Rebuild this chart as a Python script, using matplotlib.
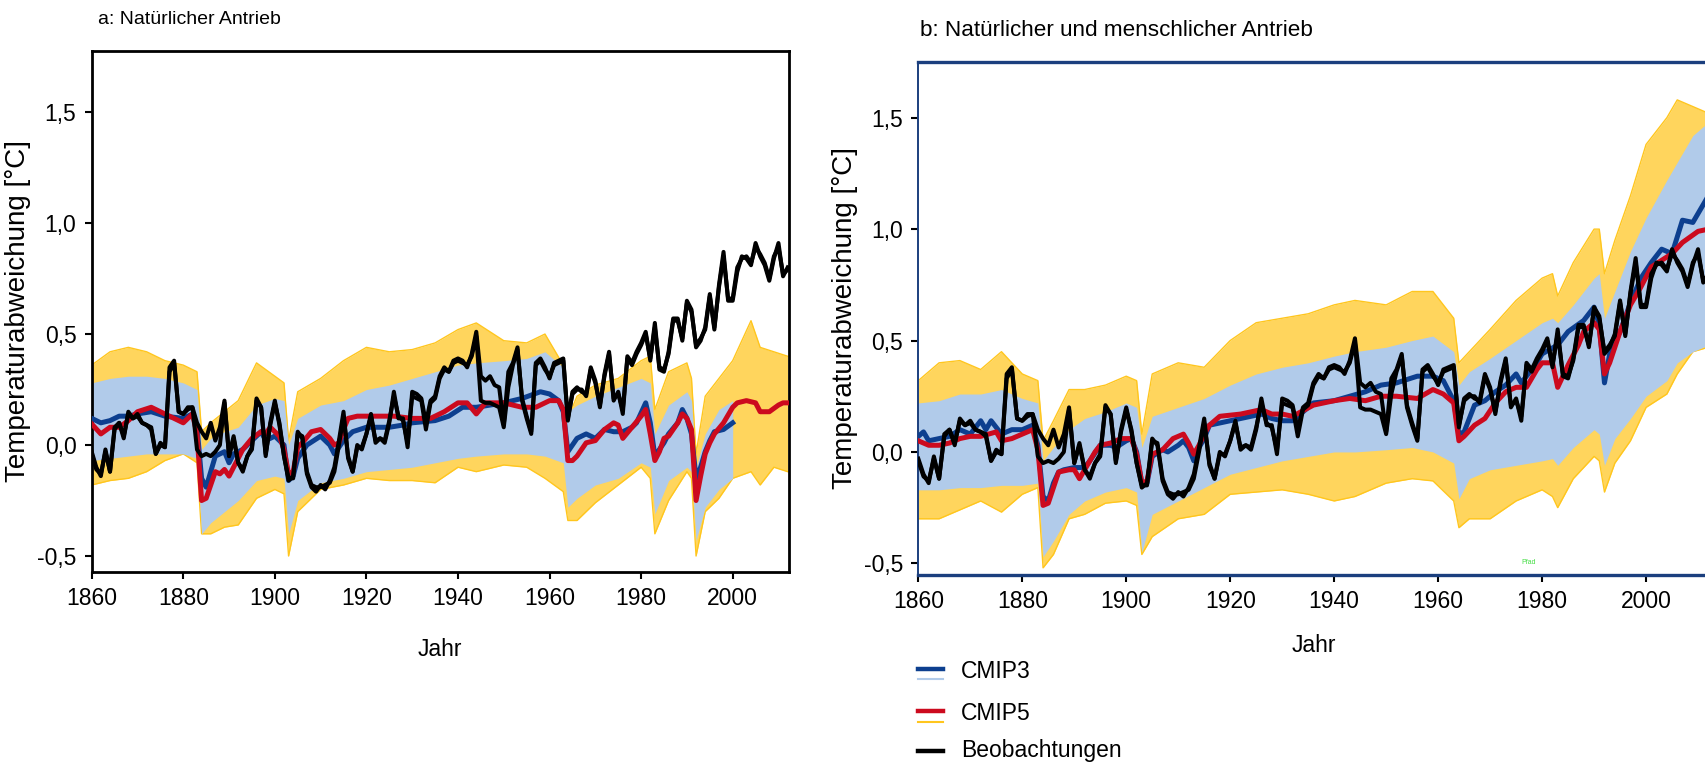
import numpy as np
import matplotlib
matplotlib.use("Agg")
import matplotlib.pyplot as plt
from matplotlib import font_manager
from matplotlib.lines import Line2D

# observations (two data sets), annual 1860-2012
years = np.arange(1860, 2013)
obs_1 = [-0.03, -0.10, -0.14, -0.02, -0.12, 0.08, 0.10, 0.03, 0.15, 0.12,
         0.14, 0.10, 0.09, 0.08, -0.04, 0.00, -0.01, 0.35, 0.38, 0.15,
         0.14, 0.17, 0.17, 0.10, 0.06, 0.03, 0.10, 0.02, 0.08, 0.20,
         -0.05, 0.04, -0.08, -0.12, -0.05, -0.01, 0.21, 0.17, -0.05, 0.10,
         0.20, 0.09, -0.05, -0.16, -0.14, 0.06, 0.03, -0.13, -0.19, -0.21,
         -0.18, -0.20, -0.16, -0.10, 0.02, 0.15, -0.06, -0.12, 0.00, -0.02,
         0.05, 0.14, 0.01, 0.03, 0.01, 0.10, 0.24, 0.12, 0.12, -0.01,
         0.24, 0.23, 0.21, 0.10, 0.20, 0.22, 0.31, 0.35, 0.33, 0.38,
         0.39, 0.38, 0.35, 0.41, 0.51, 0.31, 0.29, 0.31, 0.27, 0.26,
         0.09, 0.33, 0.37, 0.44, 0.20, 0.12, 0.05, 0.37, 0.39, 0.35,
         0.30, 0.37, 0.38, 0.39, 0.11, 0.24, 0.26, 0.24, 0.23, 0.35,
         0.29, 0.17, 0.32, 0.42, 0.20, 0.24, 0.14, 0.40, 0.37, 0.42,
         0.46, 0.51, 0.38, 0.55, 0.34, 0.33, 0.42, 0.57, 0.57, 0.47,
         0.65, 0.61, 0.44, 0.47, 0.53, 0.68, 0.52, 0.72, 0.87, 0.65,
         0.65, 0.78, 0.85, 0.84, 0.81, 0.91, 0.85, 0.81, 0.74, 0.84,
         0.91, 0.76, 0.80]
obs_2 = [-0.04, -0.11, -0.13, -0.03, -0.12, 0.07, 0.10, 0.04, 0.14, 0.12,
         0.13, 0.10, 0.09, 0.07, -0.04, 0.01, -0.01, 0.33, 0.37, 0.15,
         0.14, 0.16, 0.17, -0.02, -0.05, -0.04, -0.05, -0.03, 0.00, 0.19,
         -0.05, 0.03, -0.08, -0.11, -0.05, -0.02, 0.20, 0.17, -0.04, 0.09,
         0.19, 0.10, -0.05, -0.15, -0.15, 0.05, 0.04, -0.12, -0.18, -0.19,
         -0.19, -0.18, -0.17, -0.12, 0.00, 0.13, -0.05, -0.12, -0.01, -0.01,
         0.05, 0.13, 0.02, 0.03, 0.02, 0.11, 0.22, 0.13, 0.11, 0.01,
         0.22, 0.21, 0.20, 0.07, 0.19, 0.21, 0.30, 0.34, 0.33, 0.37,
         0.38, 0.37, 0.36, 0.40, 0.49, 0.20, 0.19, 0.19, 0.18, 0.17,
         0.08, 0.26, 0.36, 0.43, 0.21, 0.13, 0.06, 0.36, 0.38, 0.34,
         0.31, 0.36, 0.37, 0.38, 0.12, 0.23, 0.25, 0.25, 0.22, 0.34,
         0.28, 0.18, 0.31, 0.41, 0.21, 0.23, 0.16, 0.39, 0.36, 0.41,
         0.45, 0.50, 0.39, 0.53, 0.35, 0.34, 0.41, 0.56, 0.56, 0.48,
         0.64, 0.60, 0.45, 0.48, 0.52, 0.67, 0.53, 0.71, 0.85, 0.66,
         0.66, 0.80, 0.84, 0.85, 0.82, 0.89, 0.86, 0.82, 0.75, 0.85,
         0.89, 0.77, 0.79]

# multi-model means (year, value)
a_cmip5_mean = [(1860, 0.095), (1862, 0.05), (1864, 0.08), (1866, 0.08), (1868, 0.11),
                (1870, 0.15), (1873, 0.17), (1876, 0.14), (1878, 0.12), (1880, 0.10),
                (1882, 0.14), (1883, 0.05), (1884, -0.25), (1885, -0.24), (1886, -0.18),
                (1887, -0.12), (1888, -0.13), (1889, -0.11), (1890, -0.14), (1891, -0.10),
                (1892, -0.06), (1893, -0.02), (1895, 0.03), (1897, 0.06), (1898, 0.05),
                (1899, 0.08), (1901, 0.04), (1902, -0.02), (1903, -0.13), (1904, -0.12),
                (1905, -0.01), (1906, 0.01), (1908, 0.06), (1910, 0.07), (1912, 0.03),
                (1913, 0.00), (1914, 0.01), (1915, 0.07), (1916, 0.12), (1918, 0.13),
                (1922, 0.13), (1926, 0.13), (1930, 0.12), (1934, 0.12), (1937, 0.15),
                (1940, 0.19), (1942, 0.19), (1944, 0.14), (1946, 0.19), (1950, 0.19),
                (1954, 0.17), (1957, 0.17), (1960, 0.20), (1962, 0.20), (1963, 0.16),
                (1964, -0.07), (1965, -0.07), (1966, -0.05), (1968, 0.01), (1970, 0.02),
                (1972, 0.07), (1974, 0.10), (1975, 0.09), (1976, 0.03), (1978, 0.08),
                (1980, 0.13), (1981, 0.16), (1982, 0.05), (1983, -0.07), (1984, -0.03),
                (1985, 0.03), (1986, 0.04), (1988, 0.10), (1989, 0.14), (1990, 0.12),
                (1991, 0.07), (1992, -0.25), (1993, -0.14), (1994, -0.04), (1995, 0.01),
                (1996, 0.05), (1998, 0.10), (2000, 0.17), (2001, 0.19), (2003, 0.20),
                (2005, 0.19), (2006, 0.15), (2008, 0.15), (2010, 0.18), (2011, 0.19),
                (2012, 0.19)]
a_cmip3_mean = [(1860, 0.12), (1862, 0.10), (1864, 0.11), (1866, 0.13), (1868, 0.13),
                (1870, 0.14), (1873, 0.15), (1876, 0.13), (1880, 0.12), (1882, 0.14),
                (1883, 0.08), (1884, -0.15), (1885, -0.19), (1886, -0.12), (1887, -0.05),
                (1888, -0.04), (1889, -0.03), (1890, -0.08), (1891, -0.04), (1893, -0.02),
                (1895, 0.02), (1897, 0.06), (1898, 0.02), (1900, 0.04), (1902, 0.00),
                (1903, -0.16), (1904, -0.14), (1905, -0.06), (1907, 0.00), (1910, 0.04),
                (1912, 0.00), (1913, -0.04), (1915, 0.02), (1917, 0.06), (1920, 0.08),
                (1925, 0.08), (1928, 0.09), (1930, 0.10), (1935, 0.11), (1938, 0.13),
                (1941, 0.17), (1944, 0.17), (1947, 0.18), (1950, 0.19), (1954, 0.21),
                (1958, 0.24), (1960, 0.23), (1962, 0.20), (1963, 0.15), (1964, -0.03),
                (1966, 0.03), (1968, 0.05), (1970, 0.03), (1972, 0.07), (1974, 0.06),
                (1976, 0.06), (1978, 0.08), (1979, 0.10), (1981, 0.19), (1982, 0.10),
                (1983, -0.05), (1984, -0.02), (1985, 0.01), (1986, 0.05), (1988, 0.10),
                (1989, 0.16), (1990, 0.12), (1991, 0.05), (1992, -0.15), (1993, -0.10),
                (1994, -0.03), (1995, 0.02), (1996, 0.06), (1998, 0.07), (2000, 0.10)]
b_cmip5_mean = [(1860, 0.05), (1862, 0.03), (1864, 0.03), (1866, 0.04), (1868, 0.06),
                (1870, 0.07), (1872, 0.07), (1875, 0.09), (1876, 0.05), (1878, 0.06),
                (1880, 0.08), (1882, 0.10), (1883, 0.01), (1884, -0.24), (1885, -0.23),
                (1886, -0.16), (1887, -0.09), (1889, -0.08), (1890, -0.08), (1891, -0.12),
                (1892, -0.08), (1893, -0.04), (1894, 0.00), (1895, 0.03), (1897, 0.04),
                (1899, 0.06), (1901, 0.06), (1902, -0.01), (1903, -0.14), (1904, -0.13),
                (1905, -0.01), (1907, 0.01), (1909, 0.06), (1911, 0.08), (1912, 0.04),
                (1913, -0.01), (1914, 0.03), (1915, 0.08), (1916, 0.12), (1918, 0.16),
                (1922, 0.17), (1926, 0.19), (1928, 0.17), (1930, 0.17), (1932, 0.16),
                (1936, 0.21), (1940, 0.23), (1943, 0.24), (1946, 0.23), (1949, 0.25),
                (1952, 0.25), (1956, 0.24), (1959, 0.28), (1961, 0.26), (1963, 0.22),
                (1964, 0.05), (1965, 0.07), (1967, 0.12), (1969, 0.15), (1971, 0.22),
                (1973, 0.27), (1975, 0.29), (1977, 0.29), (1979, 0.37), (1980, 0.40),
                (1982, 0.40), (1983, 0.29), (1985, 0.39), (1987, 0.48), (1988, 0.54),
                (1990, 0.58), (1991, 0.55), (1992, 0.35), (1993, 0.40), (1995, 0.54),
                (1997, 0.66), (1999, 0.74), (2001, 0.83), (2003, 0.86), (2005, 0.89),
                (2007, 0.94), (2010, 0.99), (2012, 1.00)]
b_cmip3_mean = [(1860, 0.07), (1861, 0.09), (1862, 0.05), (1864, 0.06), (1866, 0.07),
                (1868, 0.10), (1870, 0.08), (1872, 0.14), (1873, 0.10), (1874, 0.14),
                (1876, 0.08), (1878, 0.10), (1880, 0.10), (1882, 0.12), (1883, 0.03),
                (1884, -0.20), (1885, -0.22), (1886, -0.14), (1887, -0.09), (1888, -0.08),
                (1890, -0.07), (1892, -0.07), (1893, -0.04), (1895, 0.03), (1897, 0.03),
                (1898, 0.02), (1900, 0.05), (1901, 0.06), (1902, 0.00), (1903, -0.14),
                (1904, -0.14), (1905, -0.02), (1907, 0.01), (1908, 0.00), (1910, 0.03),
                (1911, 0.05), (1912, 0.02), (1913, -0.04), (1914, 0.02), (1915, 0.06),
                (1916, 0.12), (1918, 0.13), (1922, 0.15), (1926, 0.17), (1928, 0.15),
                (1930, 0.14), (1932, 0.14), (1936, 0.22), (1940, 0.23), (1943, 0.25),
                (1946, 0.27), (1949, 0.30), (1952, 0.31), (1956, 0.34), (1959, 0.34),
                (1961, 0.32), (1963, 0.23), (1964, 0.08), (1965, 0.09), (1967, 0.21),
                (1969, 0.23), (1971, 0.27), (1973, 0.30), (1975, 0.35), (1976, 0.31),
                (1979, 0.40), (1980, 0.44), (1983, 0.48), (1985, 0.54), (1988, 0.59),
                (1990, 0.65), (1991, 0.57), (1992, 0.31), (1993, 0.44), (1995, 0.54),
                (1997, 0.67), (1999, 0.78), (2001, 0.85), (2003, 0.91), (2005, 0.89),
                (2007, 1.04), (2009, 1.03), (2012, 1.15)]

# ensemble spread (upper / lower edge of the single model runs)
env_years = [1860, 1864, 1868, 1872, 1876, 1880, 1883, 1884, 1886, 1889,
             1892, 1896, 1900, 1902, 1903, 1905, 1910, 1915, 1920, 1925,
             1930, 1935, 1940, 1944, 1950, 1955, 1959, 1963, 1964, 1966,
             1970, 1975, 1980, 1982, 1983, 1986, 1990, 1991, 1992, 1994,
             1997, 2000, 2004, 2006, 2009, 2012]
a_cmip5_hi = [0.36, 0.42, 0.44, 0.42, 0.38, 0.36, 0.33, 0.06, 0.10, 0.15,
              0.20, 0.37, 0.31, 0.28, 0.02, 0.24, 0.30, 0.38, 0.44, 0.42,
              0.43, 0.46, 0.52, 0.55, 0.47, 0.46, 0.50, 0.36, 0.12, 0.22,
              0.27, 0.30, 0.38, 0.40, 0.16, 0.33, 0.37, 0.30, -0.04, 0.22,
              0.30, 0.38, 0.56, 0.44, 0.42, 0.40]
a_cmip5_lo = [-0.18, -0.16, -0.15, -0.12, -0.07, -0.04, -0.08, -0.40, -0.40, -0.37,
              -0.36, -0.24, -0.20, -0.22, -0.50, -0.30, -0.20, -0.18, -0.15, -0.16,
              -0.16, -0.17, -0.10, -0.12, -0.09, -0.10, -0.15, -0.21, -0.34, -0.34,
              -0.26, -0.18, -0.10, -0.15, -0.40, -0.25, -0.12, -0.15, -0.50, -0.30,
              -0.24, -0.15, -0.12, -0.18, -0.10, -0.12]
a_cmip3_hi = [0.28, 0.30, 0.31, 0.31, 0.30, 0.28, 0.25, -0.02, 0.03, 0.06,
              0.08, 0.18, 0.21, 0.20, 0.00, 0.12, 0.18, 0.20, 0.25, 0.27,
              0.30, 0.33, 0.36, 0.37, 0.38, 0.39, 0.42, 0.35, 0.15, 0.18,
              0.22, 0.26, 0.30, 0.28, 0.05, 0.18, 0.24, 0.20, -0.10, 0.05,
              0.16, 0.20]
a_cmip3_lo = [-0.07, -0.06, -0.05, -0.04, -0.04, -0.04, -0.06, -0.40, -0.35, -0.30,
              -0.25, -0.16, -0.14, -0.15, -0.40, -0.25, -0.17, -0.15, -0.12, -0.11,
              -0.10, -0.08, -0.06, -0.05, -0.04, -0.04, -0.05, -0.08, -0.28, -0.24,
              -0.18, -0.15, -0.08, -0.10, -0.31, -0.16, -0.10, -0.12, -0.43, -0.28,
              -0.20, -0.15]
b_cmip5_hi = [0.32, 0.40, 0.41, 0.37, 0.45, 0.35, 0.32, 0.05, 0.14, 0.28,
              0.28, 0.30, 0.34, 0.32, 0.08, 0.35, 0.40, 0.38, 0.50, 0.58,
              0.60, 0.62, 0.66, 0.68, 0.66, 0.72, 0.72, 0.60, 0.40, 0.45,
              0.55, 0.68, 0.78, 0.80, 0.70, 0.85, 1.00, 1.00, 0.80, 0.95,
              1.15, 1.38, 1.50, 1.58, 1.55, 1.52]
b_cmip5_lo = [-0.30, -0.30, -0.26, -0.22, -0.27, -0.19, -0.16, -0.52, -0.46, -0.30,
              -0.28, -0.23, -0.22, -0.24, -0.46, -0.38, -0.30, -0.28, -0.19, -0.18,
              -0.17, -0.19, -0.22, -0.20, -0.14, -0.12, -0.13, -0.22, -0.34, -0.30,
              -0.30, -0.22, -0.17, -0.20, -0.25, -0.12, -0.02, -0.04, -0.18, -0.05,
              0.05, 0.20, 0.26, 0.35, 0.45, 0.47]
b_cmip3_hi = [0.22, 0.23, 0.26, 0.26, 0.28, 0.24, 0.22, -0.04, 0.02, 0.10,
              0.15, 0.18, 0.22, 0.20, 0.02, 0.16, 0.20, 0.24, 0.30, 0.35,
              0.38, 0.40, 0.43, 0.45, 0.47, 0.50, 0.52, 0.45, 0.30, 0.36,
              0.42, 0.50, 0.58, 0.60, 0.58, 0.66, 0.78, 0.80, 0.60, 0.72,
              0.90, 1.05, 1.22, 1.30, 1.42, 1.48]
b_cmip3_lo = [-0.17, -0.17, -0.16, -0.16, -0.15, -0.15, -0.14, -0.47, -0.40, -0.28,
              -0.22, -0.18, -0.16, -0.18, -0.45, -0.28, -0.22, -0.16, -0.10, -0.07,
              -0.04, -0.02, 0.00, 0.00, 0.01, 0.02, 0.00, -0.05, -0.21, -0.12,
              -0.08, -0.06, -0.04, -0.03, -0.06, 0.02, 0.10, 0.08, -0.06, 0.06,
              0.15, 0.25, 0.32, 0.40, 0.45, 0.48]

x_ticks = [1860, 1880, 1900, 1920, 1940, 1960, 1980, 2000]
y_ticks = [-0.5, 0.0, 0.5, 1.0, 1.5]
y_labels = ['-0,5', '0,0', '0,5', '1,0', '1,5']
legend_labels = ['CMIP3', 'CMIP5', 'Beobachtungen']

YELLOW = '#FFC61E'
LBLUE = '#B1CBEA'
NAVY = '#0D3F8F'
RED = '#CC0A1E'

names = {f.name for f in font_manager.fontManager.ttflist}
base = 'Liberation Sans Narrow' if 'Liberation Sans Narrow' in names else 'Liberation Sans'
plt.rcParams['font.family'] = [base, 'DejaVu Sans']

W, H = 1706, 766
fig = plt.figure(figsize=(W / 100, H / 100), dpi=100)


def px_axes(left, top, right, bottom):
    return fig.add_axes([left / W, 1 - bottom / H, (right - left) / W, (bottom - top) / H])


def draw_panel(ax, y_hi, y_lo, b_hi, b_lo, m3, m5):
    ax.fill_between(env_years, y_lo, y_hi, color=YELLOW, alpha=0.72, lw=0, zorder=1)
    ax.plot(env_years, y_hi, color=YELLOW, lw=1.0, zorder=1)
    ax.plot(env_years, y_lo, color=YELLOW, lw=1.0, zorder=1)
    by = env_years[:len(b_hi)]
    ax.fill_between(by, b_lo, b_hi, color=LBLUE, lw=0, zorder=2)
    ax.plot(*zip(*m3), color=NAVY, lw=3.6, zorder=3)
    ax.plot(*zip(*m5), color=RED, lw=3.6, zorder=4)
    ax.plot(years, obs_2, color='black', lw=2.9, zorder=5)
    ax.plot(years, obs_1, color='black', lw=2.9, zorder=5)
    ax.set_xlim(1860, 2012.3)
    ax.set_xticks(x_ticks)
    ax.set_yticks(y_ticks)
    ax.set_yticklabels(y_labels)
    ax.tick_params(direction='out', length=5, width=1.5, labelsize=16.5, pad=6)
    ax.set_ylabel('Temperaturabweichung [°C]', fontsize=20, labelpad=4)


ax_a = px_axes(91.7, 51, 789, 572)
draw_panel(ax_a, a_cmip5_hi, a_cmip5_lo, a_cmip3_hi, a_cmip3_lo, a_cmip3_mean, a_cmip5_mean)
ax_a.set_ylim(-0.572, 1.775)
for s in ax_a.spines.values():
    s.set_linewidth(2.0)
ax_a.set_xlabel('Jahr', fontsize=16.5, labelpad=20)

ax_b = px_axes(918.3, 62, 1710, 574.5)
draw_panel(ax_b, b_cmip5_hi, b_cmip5_lo, b_cmip3_hi, b_cmip3_lo, b_cmip3_mean, b_cmip5_mean)
ax_b.set_ylim(-0.55, 1.75)
for s in ax_b.spines.values():
    s.set_color('#1B3F7E')
    s.set_linewidth(2.4)
ax_b.spines['left'].set_linewidth(1.4)
ax_b.set_xlabel('Jahr', fontsize=16.5, labelpad=15)

fig.text(98 / W, 1 - 20 / H, 'a: Natürlicher Antrieb', fontsize=14, va='center', ha='left')
fig.text(920 / W, 1 - 30 / H, 'b: Natürlicher und menschlicher Antrieb', fontsize=16.2,
         va='center', ha='left')
fig.text(1521 / W, 1 - 563 / H, 'Pfad', fontsize=5, color='#44DD44', va='center')

# legend below panel b
rows = [(669, NAVY, 679, LBLUE), (711, RED, 722, YELLOW), (751, 'black', None, None)]
for (y1, c1, y2, c2), lab in zip(rows, legend_labels):
    fig.add_artist(Line2D([918 / W, 943 / W], [1 - y1 / H] * 2, color=c1, lw=3.2))
    if y2 is not None:
        fig.add_artist(Line2D([918 / W, 943 / W], [1 - y2 / H] * 2, color=c2, lw=1.5))
    ty = y1 + 3 if y2 is not None else y1
    fig.text(961 / W, 1 - ty / H, lab, fontsize=16.5, va='center', ha='left')

fig.savefig('out.png', dpi=100)
